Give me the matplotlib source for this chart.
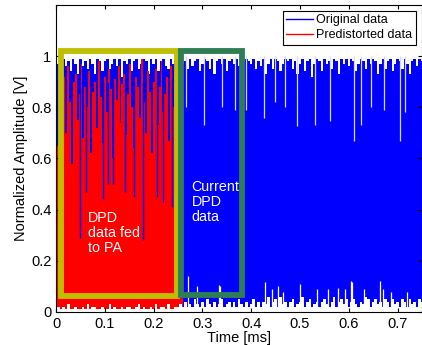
import numpy as np
import matplotlib
matplotlib.use('Agg')
import matplotlib.pyplot as plt
from matplotlib.patches import Rectangle

plt.rcParams['font.family'] = ['Liberation Sans', 'DejaVu Sans']

# envelopes (normalized amplitude)
# original data, upper edge, one value every 0.005 ms
blue_hi = [0.92, 0.97, 0.95, 0.99, 0.96, 0.98, 0.94, 0.99, 0.97, 0.93,
           0.99, 0.96, 0.98, 0.95, 0.99, 0.97, 0.93, 0.99, 0.98, 0.94,
           0.98, 0.99, 0.95, 0.97, 0.99, 0.96, 0.99, 0.92, 0.98, 0.97,
           0.99, 0.94, 0.98, 0.99, 0.95, 0.97, 0.99, 0.98, 0.93, 0.99,
           0.97, 0.99, 0.94, 0.98, 0.99, 0.96, 0.95, 0.99, 0.97, 0.98,
           0.91, 0.99, 0.97, 0.98, 0.95, 0.99, 0.96, 0.98, 0.99, 0.94,
           0.97, 0.99, 0.98, 0.95, 0.99, 0.93, 0.98, 0.99, 0.97, 0.99,
           0.94, 0.98, 0.99, 0.97, 0.99, 0.96, 0.92, 0.98, 0.99, 0.98,
           0.97, 0.99, 0.95, 0.98, 0.96, 0.99, 0.93, 0.97, 0.99, 0.95,
           0.99, 0.98, 0.94, 0.97, 0.99, 0.98, 0.99, 0.95, 0.98, 0.93,
           0.97, 0.99, 0.94, 0.98, 0.99, 0.92, 0.97, 0.99, 0.98, 0.94,
           0.99, 0.97, 0.98, 0.95, 0.99, 0.98, 0.93, 0.99, 0.97, 0.99,
           0.96, 0.99, 0.98, 0.94, 0.97, 0.99, 0.98, 0.95, 0.99, 0.97,
           0.99, 0.98, 0.93, 0.97, 0.99, 0.95, 0.98, 0.99, 0.94, 0.97,
           0.99, 0.98, 0.95, 0.99, 0.97, 0.93, 0.98, 0.99, 0.96, 0.99,
           0.98]

# narrow dips from the top of the original data
dip_t = [0.267, 0.304, 0.339, 0.367, 0.390, 0.427, 0.449, 0.469, 0.494, 0.531,
         0.561, 0.610, 0.624, 0.645, 0.673, 0.704, 0.716]
dip_y = [0.80, 0.73, 0.80, 0.79, 0.79, 0.76, 0.82, 0.80, 0.725, 0.73,
         0.745, 0.67, 0.73, 0.80, 0.79, 0.67, 0.78]

# lower edge of the signals (white at the bottom), every 0.005 ms
sig_lo = [0.01, 0.02, 0.01, 0.02, 0.01, 0.03, 0.01, 0.01, 0.02, 0.01,
          0.01, 0.02, 0.01, 0.03, 0.01, 0.02, 0.02, 0.01, 0.01, 0.02,
          0.01, 0.01, 0.03, 0.01, 0.02, 0.01, 0.01, 0.02, 0.01, 0.02,
          0.02, 0.01, 0.01, 0.02, 0.03, 0.01, 0.02, 0.01, 0.01, 0.02,
          0.01, 0.03, 0.01, 0.02, 0.02, 0.01, 0.03, 0.01, 0.01, 0.02,
          0.02, 0.03, 0.02, 0.04, 0.02, 0.03, 0.02, 0.05, 0.03, 0.02,
          0.04, 0.02, 0.05, 0.03, 0.02, 0.04, 0.02, 0.03, 0.05, 0.02,
          0.03, 0.04, 0.02, 0.04, 0.02, 0.05, 0.03, 0.02, 0.04, 0.02,
          0.03, 0.05, 0.02, 0.04, 0.02, 0.04, 0.03, 0.06, 0.02, 0.04,
          0.05, 0.02, 0.06, 0.03, 0.04, 0.02, 0.04, 0.05, 0.02, 0.03,
          0.04, 0.06, 0.02, 0.04, 0.05, 0.02, 0.03, 0.04, 0.02, 0.04,
          0.05, 0.03, 0.02, 0.04, 0.06, 0.02, 0.04, 0.05, 0.03, 0.05,
          0.02, 0.04, 0.05, 0.03, 0.02, 0.04, 0.03, 0.06, 0.05, 0.02,
          0.04, 0.05, 0.03, 0.04, 0.02, 0.05, 0.04, 0.02, 0.05, 0.03,
          0.04, 0.02, 0.05, 0.04, 0.02, 0.05, 0.03, 0.04, 0.02, 0.05,
          0.04]

# narrow spikes of white rising from the bottom
spike_t = [0.270, 0.288, 0.333, 0.335, 0.429, 0.443, 0.455, 0.465, 0.500, 0.535,
           0.557, 0.578, 0.592, 0.604, 0.606, 0.631, 0.663, 0.670, 0.686, 0.720]
spike_y = [0.14, 0.10, 0.105, 0.10, 0.118, 0.09, 0.10, 0.08, 0.11, 0.09,
           0.09, 0.094, 0.09, 0.12, 0.118, 0.09, 0.12, 0.09, 0.08, 0.08]

# predistorted data, upper edge, one value every 0.004 ms
red_hi = [0.60, 0.65, 0.95, 0.88, 0.92, 0.70, 0.96, 0.82, 0.58, 0.90,
          0.93, 0.75, 0.85, 0.97, 0.68, 0.88, 0.80, 0.94, 0.62, 0.86,
          0.90, 0.72, 0.98, 0.84, 0.66, 0.92, 0.78, 0.95, 0.87, 0.60,
          0.91, 0.83, 0.96, 0.74, 0.89, 0.93, 0.69, 0.85, 0.97, 0.80,
          0.64, 0.92, 0.88, 0.76, 0.99, 0.82, 0.70, 0.94, 0.86, 0.62,
          0.90, 0.95, 0.73, 0.88, 0.98, 0.78, 0.85, 0.92, 0.67, 0.96,
          0.80, 0.89, 0.93, 0.71, 0.84, 0.55]

# places where the blue trace shows through the red one
gap_t = [0.049, 0.061, 0.096, 0.106, 0.116, 0.141, 0.159, 0.178, 0.206, 0.220, 0.237]
gap_lo = [0.29, 0.47, 0.44, 0.50, 0.50, 0.47, 0.45, 0.28, 0.45, 0.43, 0.41]

t_blue = np.arange(len(blue_hi)) * 0.005
t_lo = np.arange(len(sig_lo)) * 0.005
t_red = np.arange(len(red_hi)) * 0.004

fig = plt.figure(figsize=(4.22, 3.45), dpi=100)
ax = fig.add_axes([0.133, 0.0957, 0.867, 0.89])

ax.fill_between(t_blue, 0, blue_hi, step='mid', color='#0000ff', lw=0)
ax.vlines(dip_t, dip_y, 1.0, color='#d8d8ff', lw=0.9)
ax.fill_between(t_red, 0, red_hi, step='mid', color='#ff0000', lw=0)
ax.vlines(gap_t, gap_lo, 0.9, color='#0000ff', lw=1.0)
ax.fill_between(t_lo, 0, sig_lo, step='mid', color='white', lw=0)
ax.vlines(spike_t, 0, spike_y, color='white', lw=0.9)

# legend handles
ax.plot([], [], color='#0000ff', lw=1, label='Original data')
ax.plot([], [], color='#ff0000', lw=1, label='Predistorted data')

ax.add_patch(Rectangle((0.01, 0.063), 0.237, 0.957, fill=False,
                       edgecolor='#bfbf00', lw=4.2, zorder=5))
ax.add_patch(Rectangle((0.257, 0.067), 0.125, 0.953, fill=False,
                       edgecolor='#2e7d55', lw=4.2, zorder=5))

ax.text(0.065, 0.395, 'DPD\ndata fed\nto PA', color='white', fontsize=10.3,
        va='top', ha='left', linespacing=1.1, zorder=6)
ax.text(0.278, 0.515, 'Current\nDPD\ndata', color='white', fontsize=10.3,
        va='top', ha='left', linespacing=1.1, zorder=6)

ax.set_xlim(0, 0.75)
ax.set_ylim(0, 1.2)
ax.set_xticks([0, 0.1, 0.2, 0.3, 0.4, 0.5, 0.6, 0.7])
ax.set_xticklabels(['0', '0.1', '0.2', '0.3', '0.4', '0.5', '0.6', '0.7'])
ax.set_yticks([0, 0.2, 0.4, 0.6, 0.8, 1.0])
ax.set_yticklabels(['0', '0.2', '0.4', '0.6', '0.8', '1'])
ax.tick_params(direction='in', top=True, right=True, labelsize=10.5, length=3)
ax.set_xlabel('Time [ms]', fontsize=10.5, labelpad=0)
ax.set_ylabel('Normalized Amplitude [V]', fontsize=10.5, labelpad=2)

leg = ax.legend(loc='upper right', fontsize=9, handlelength=2.15, handletextpad=0.3,
                borderpad=0.25, labelspacing=0.25, fancybox=False, framealpha=1,
                borderaxespad=0.5)
leg.get_frame().set_edgecolor('black')
leg.get_frame().set_linewidth(0.8)
leg.set_zorder(10)

fig.savefig('out.png', dpi=100)
